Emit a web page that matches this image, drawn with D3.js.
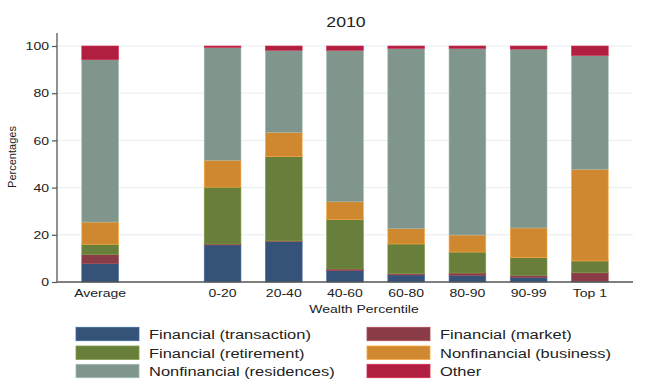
<!DOCTYPE html>
<html>
<head>
<meta charset="utf-8">
<script src="https://cdn.jsdelivr.net/npm/d3@7"></script>
<style>
  body { margin: 0; background: #fff; }
  text { font-family: "Liberation Sans", Arial, sans-serif; fill: #222; }
</style>
</head>
<body>
<div id="chart"></div>
<script>
// categories (a blank slot sits between Average and the percentiles)
var groups = ["Average", "0-20", "20-40", "40-60", "60-80", "80-90", "90-99", "Top 1"];
var slots = ["Average", "gap", "0-20", "20-40", "40-60", "60-80", "80-90", "90-99", "Top 1"];

// shares of wealth, percent
var finTransaction   = [7.8, 15.7, 17.1, 4.8, 3.0, 2.8, 2.0, 0.4];
var finMarket        = [3.8, 0.4, 0.3, 0.7, 0.5, 1.0, 0.8, 3.5];
var finRetirement    = [4.4, 24.1, 35.7, 20.9, 12.6, 8.9, 7.5, 5.0];
var nonfinBusiness   = [9.4, 11.4, 10.3, 7.6, 6.5, 7.2, 12.6, 38.8];
var nonfinResidences = [68.8, 47.8, 34.8, 64.2, 76.4, 79.1, 75.8, 48.3];
var otherAssets      = [5.8, 0.6, 1.8, 1.8, 1.0, 1.0, 1.3, 4.0];

var seriesNames = ["Financial (transaction)", "Financial (market)", "Financial (retirement)",
                   "Nonfinancial (business)", "Nonfinancial (residences)", "Other"];
var seriesValues = [finTransaction, finMarket, finRetirement, nonfinBusiness, nonfinResidences, otherAssets];
var colors = ["#355379", "#8a3c46", "#687e3b", "#d08830", "#80958b", "#b01f40"];
var yTicks = [0, 20, 40, 60, 80, 100];

var W = 650, H = 387, SX = 1.22;  // text in the source is stretched sideways

var rows = groups.map(function(g, i) {
  var r = {group: g};
  seriesNames.forEach(function(s, k) { r[s] = seriesValues[k][i]; });
  return r;
});

var svg = d3.select("#chart").append("svg")
  .attr("width", W).attr("height", H);

var x = d3.scaleBand().domain(slots).range([57, 633])
  .paddingInner(0.4).paddingOuter(0.405);
var y = d3.scaleLinear().domain([0, 100]).range([282, 46]);

// gridlines
svg.append("g").selectAll("line")
  .data(yTicks.slice(1))
  .enter().append("line")
  .attr("x1", 57).attr("x2", 633)
  .attr("y1", function(d) { return y(d); })
  .attr("y2", function(d) { return y(d); })
  .attr("stroke", "#e6eeee").attr("stroke-width", 1);

// stacked bars
var stacked = d3.stack().keys(seriesNames)(rows);
svg.append("g").selectAll("g")
  .data(stacked)
  .enter().append("g")
  .attr("fill", function(d, i) { return colors[i]; })
  .attr("stroke", function(d, i) { return d3.color(colors[i]).brighter(0.6); })
  .attr("stroke-width", 0.6)
  .selectAll("rect")
  .data(function(d) { return d; })
  .enter().append("rect")
  .attr("x", function(d) { return x(d.data.group); })
  .attr("y", function(d) { return y(d[1]); })
  .attr("width", x.bandwidth())
  .attr("height", function(d) { return y(d[0]) - y(d[1]); });

// y axis
var yAxis = svg.append("g")
  .attr("transform", "translate(57,0)")
  .call(d3.axisLeft(y).tickValues(yTicks).tickSize(5).tickPadding(3));
yAxis.select(".domain").remove();
yAxis.append("line")
  .attr("x1", 0).attr("x2", 0).attr("y1", y(0)).attr("y2", y(100) - 13)
  .attr("stroke", "#555").attr("stroke-width", 1.3);
yAxis.selectAll(".tick line").attr("stroke", "#555").attr("stroke-width", 1.2);
yAxis.selectAll(".tick text")
  .attr("font-size", 11.5).attr("fill", "#222")
  .attr("x", -8 / SX)
  .attr("transform", "scale(" + SX + ",1)");

// x axis
var xAxis = svg.append("g")
  .attr("transform", "translate(0," + y(0) + ")")
  .call(d3.axisBottom(x).tickValues(groups).tickSize(0).tickPadding(7));
xAxis.select(".domain").remove();
xAxis.append("line")
  .attr("x1", 57).attr("x2", 633)
  .attr("stroke", "#555").attr("stroke-width", 1.3);
xAxis.selectAll(".tick text")
  .attr("font-size", 11.5).attr("fill", "#222")
  .attr("transform", "scale(" + SX + ",1)");

// titles
function stretched(px, py, str, size) {
  return svg.append("g").attr("transform", "translate(" + px + "," + py + ") scale(" + SX + ",1)")
    .append("text").attr("font-size", size).text(str);
}
stretched(346, 27, "2010", 14.5).attr("text-anchor", "middle");
stretched(364, 313, "Wealth Percentile", 11.5).attr("text-anchor", "middle");

svg.append("text")
  .attr("transform", "translate(16,157) rotate(-90)")
  .attr("text-anchor", "middle")
  .attr("font-size", 11)
  .text("Percentages");

// legend, two columns
var legendCols = [76, 367];
var legendRows = [334, 352.7, 371];
seriesNames.forEach(function(name, i) {
  var lx = legendCols[i % 2], ly = legendRows[Math.floor(i / 2)];
  svg.append("rect")
    .attr("x", lx).attr("y", ly - 6.7)
    .attr("width", 63).attr("height", 13.4)
    .attr("fill", colors[i])
    .attr("stroke", d3.color(colors[i]).brighter(0.6)).attr("stroke-width", 0.8);
  stretched(lx + 73, ly + 4.8, name, 13.5);
});
</script>
</body>
</html>
